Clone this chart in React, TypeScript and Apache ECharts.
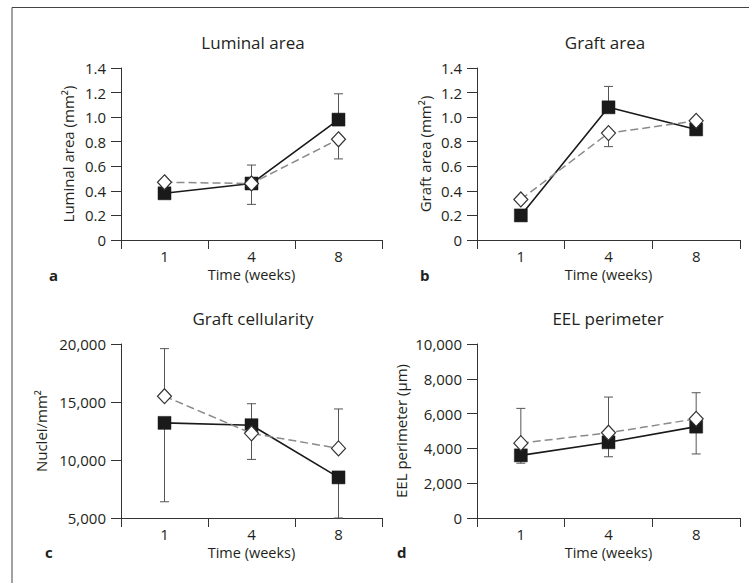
import React, { useEffect, useRef } from "react";
import * as echarts from "echarts";

const weeks = ["1", "4", "8"];

// Panel a: Luminal area (mm²)
const lumSquare = [0.38, 0.46, 0.98];
const lumDiamond = [0.47, 0.46, 0.82];
const lumErr = [
  [1, 0.46, 0.61],
  [1, 0.46, 0.29],
  [2, 0.98, 1.19],
  [2, 0.82, 0.66],
];

// Panel b: Graft area (mm²)
const graftSquare = [0.2, 1.08, 0.9];
const graftDiamond = [0.33, 0.87, 0.97];
const graftErr = [
  [1, 1.08, 1.25],
  [1, 0.87, 0.76],
];

// Panel c: Graft cellularity (nuclei/mm²)
const cellSquare = [13200, 13000, 8500];
const cellDiamond = [15500, 12300, 11000];
const cellErr = [
  [0, 15500, 19600],
  [0, 13200, 6400],
  [1, 13000, 14850],
  [1, 12300, 10050],
  [2, 11000, 14400],
  [2, 8500, 5000],
];

// Panel d: EEL perimeter (µm)
const eelSquare = [3600, 4350, 5250];
const eelDiamond = [4300, 4900, 5700];
const eelErr = [
  [0, 4300, 6300],
  [0, 3600, 3150],
  [1, 4900, 6950],
  [1, 4350, 3520],
  [2, 5700, 7200],
  [2, 5250, 3680],
];

const FONT = "Open Sans";
const AX = "#333";
const TXT = "#231f20";

export default function App() {
  const ref = useRef<HTMLDivElement>(null);
  useEffect(() => {
    document.body.style.margin = "0";
    const chart = echarts.init(ref.current!, null, { renderer: "svg" });

    const grids = [
      { left: 121, top: 68, width: 261, height: 172 },
      { left: 477, top: 68, width: 263, height: 172 },
      { left: 121, top: 344, width: 261, height: 174 },
      { left: 477, top: 344, width: 263, height: 174 },
    ];

    const dec = (v: number) => (v === 0 ? "0" : v.toFixed(1));
    const thou = (v: number) => v.toLocaleString("en-US");

    const yDefs = [
      { min: 0, max: 1.4, interval: 0.2, fmt: dec, name: "Luminal area (mm²)", gap: 46 },
      { min: 0, max: 1.4, interval: 0.2, fmt: dec, name: "Graft area (mm²)", gap: 45 },
      { min: 5000, max: 20000, interval: 5000, fmt: thou, name: "Nuclei/mm²", gap: 73 },
      { min: 0, max: 10000, interval: 2000, fmt: thou, name: "EEL perimeter (µm)", gap: 69 },
    ];

    const xAxis = grids.map((_, i) => ({
      type: "category",
      gridIndex: i,
      data: weeks,
      boundaryGap: true,
      name: "Time (weeks)",
      nameLocation: "middle",
      nameGap: 27,
      nameTextStyle: { fontFamily: FONT, fontSize: 14.5, color: TXT },
      axisLine: { show: true, lineStyle: { color: AX, width: 1 } },
      axisTick: { show: true, interval: 0, length: 9, lineStyle: { color: AX } },
      axisLabel: { fontFamily: FONT, fontSize: 15, color: TXT, margin: 8 },
      splitLine: { show: false },
    }));

    const yAxis = yDefs.map((d, i) => ({
      type: "value",
      gridIndex: i,
      min: d.min,
      max: d.max,
      interval: d.interval,
      name: d.name,
      nameLocation: "middle",
      nameRotate: 90,
      nameGap: d.gap,
      nameTextStyle: { fontFamily: FONT, fontSize: 15, color: TXT },
      axisLine: { show: true, lineStyle: { color: AX, width: 1 } },
      axisTick: { show: true, length: 10, lineStyle: { color: AX } },
      axisLabel: {
        fontFamily: FONT,
        fontSize: 15,
        color: TXT,
        margin: 15,
        formatter: d.fmt,
      },
      splitLine: { show: false },
    }));

    const errRender = (params: any, api: any) => {
      const x = api.value(0);
      const p1 = api.coord([x, api.value(1)]);
      const p2 = api.coord([x, api.value(2)]);
      const st = { stroke: "#555", lineWidth: 1 };
      return {
        type: "group",
        children: [
          { type: "line", shape: { x1: p1[0], y1: p1[1], x2: p2[0], y2: p2[1] }, style: st },
          { type: "line", shape: { x1: p2[0] - 4.5, y1: p2[1], x2: p2[0] + 4.5, y2: p2[1] }, style: st },
        ],
      };
    };

    const panels = [
      [lumSquare, lumDiamond, lumErr],
      [graftSquare, graftDiamond, graftErr],
      [cellSquare, cellDiamond, cellErr],
      [eelSquare, eelDiamond, eelErr],
    ] as [number[], number[], number[][]][];

    const series: any[] = [];
    panels.forEach(([sq, di, er], i) => {
      series.push({
        type: "custom",
        xAxisIndex: i,
        yAxisIndex: i,
        renderItem: errRender,
        data: er,
        encode: { x: 0, y: [1, 2] },
        z: 1,
        silent: true,
      });
      series.push({
        type: "line",
        xAxisIndex: i,
        yAxisIndex: i,
        data: sq,
        symbol: "rect",
        symbolSize: 13,
        lineStyle: { color: "#1a1a1a", width: 1.6 },
        itemStyle: { color: "#1a1a1a", borderColor: "#1a1a1a", borderWidth: 0.5 },
        z: 3,
      });
      series.push({
        type: "line",
        xAxisIndex: i,
        yAxisIndex: i,
        data: di,
        symbol: "diamond",
        symbolSize: [14, 15],
        lineStyle: { color: "#8a8a8a", width: 1.5, type: [8, 4] },
        itemStyle: { color: "#ffffff", borderColor: "#333", borderWidth: 1.2 },
        z: 4,
      });
    });

    const title = (text: string, x: number, y: number) => ({
      type: "text",
      x,
      y,
      style: {
        text,
        fontFamily: FONT,
        fontSize: 17,
        fill: TXT,
        textAlign: "center",
        textVerticalAlign: "middle",
      },
    });
    const letter = (text: string, x: number, y: number) => ({
      type: "text",
      x,
      y,
      style: {
        text,
        fontFamily: FONT,
        fontSize: 15,
        fontWeight: "bold",
        fill: TXT,
        textAlign: "left",
        textVerticalAlign: "middle",
      },
    });

    chart.setOption({
      animation: false,
      backgroundColor: "#ffffff",
      grid: grids,
      xAxis,
      yAxis,
      series,
      graphic: [
        { type: "line", shape: { x1: 12, y1: 7.5, x2: 749, y2: 7.5 }, style: { stroke: "#444", lineWidth: 1 } },
        { type: "line", shape: { x1: 12, y1: 7.5, x2: 12, y2: 583 }, style: { stroke: "#444", lineWidth: 1 } },
        title("Luminal area", 253, 42),
        title("Graft area", 605, 42),
        title("Graft cellularity", 253, 318),
        title("EEL perimeter", 608, 318),
        letter("a", 49, 275),
        letter("b", 420, 275),
        letter("c", 45, 552),
        letter("d", 397, 552),
      ],
    });
    return () => chart.dispose();
  }, []);
  return <div ref={ref} style={{ width: 749, height: 583 }} />;
}
